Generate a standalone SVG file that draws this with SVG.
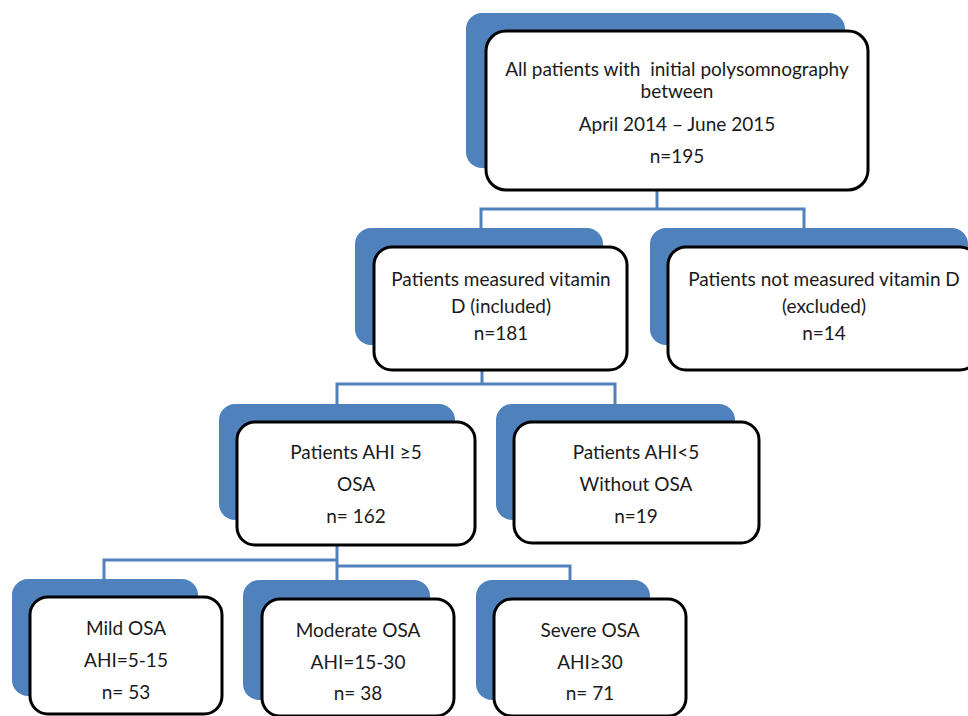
<svg xmlns="http://www.w3.org/2000/svg" width="968" height="716" viewBox="0 0 968 716">
<style>
.bk{fill:#4F81BD}
.fr{fill:#fff;stroke:#000;stroke-width:3}
.t{font-family:Lato,"Liberation Sans",Arial,sans-serif;font-size:19px;fill:#1a1a1a;text-anchor:middle;white-space:pre}
.c{fill:none;stroke:#4F81BD;stroke-width:3}
</style>
<rect width="968" height="716" fill="#fff"/>
<g id="connectors">
<path class="c" d="M657 190V209M481 230V209H804V230"/>
<path class="c" d="M482 370V384M337 404V384H615V404"/>
<path class="c" d="M337 545V599M104 580V560H337M337 566H570V580"/>
</g>
<g id="n1">
<rect class="bk" x="466" y="13" width="379" height="155" rx="16"/>
<rect class="fr" x="486" y="31" width="382" height="159" rx="20"/>
<text class="t" x="677" y="76">All patients with  initial polysomnography</text>
<text class="t" x="677" y="98">between</text>
<text class="t" x="677" y="131">April 2014 – June 2015</text>
<text class="t" x="677" y="163">n=195</text>
</g>
<g id="n2">
<rect class="bk" x="355" y="228" width="248" height="117" rx="16"/>
<rect class="fr" x="374" y="247" width="253" height="123" rx="18"/>
<text class="t" x="501" y="286">Patients measured vitamin</text>
<text class="t" x="501" y="313">D (included)</text>
<text class="t" x="501" y="340">n=181</text>
</g>
<g id="n3">
<rect class="bk" x="650" y="228" width="318" height="117" rx="16"/>
<rect class="fr" x="668" y="247" width="310" height="123" rx="18"/>
<text class="t" x="824" y="286">Patients not measured vitamin D</text>
<text class="t" x="824" y="313">(excluded)</text>
<text class="t" x="824" y="340">n=14</text>
</g>
<g id="n4">
<rect class="bk" x="219" y="404" width="236" height="116" rx="16"/>
<rect class="fr" x="237" y="422" width="238" height="123" rx="18"/>
<text class="t" x="356" y="459">Patients AHI ≥5</text>
<text class="t" x="356" y="491">OSA</text>
<text class="t" x="356" y="523">n= 162</text>
</g>
<g id="n5">
<rect class="bk" x="496" y="404" width="239" height="116" rx="16"/>
<rect class="fr" x="514" y="422" width="245" height="121" rx="18"/>
<text class="t" x="636" y="459">Patients AHI&lt;5</text>
<text class="t" x="636" y="491">Without OSA</text>
<text class="t" x="636" y="523">n=19</text>
</g>
<g id="n6">
<rect class="bk" x="12" y="579" width="186" height="117" rx="16"/>
<rect class="fr" x="30" y="597" width="192" height="117" rx="18"/>
<text class="t" x="126" y="635">Mild OSA</text>
<text class="t" x="126" y="667">AHI=5-15</text>
<text class="t" x="126" y="699">n= 53</text>
</g>
<g id="n7">
<rect class="bk" x="243" y="580" width="187" height="120" rx="16"/>
<rect class="fr" x="262" y="599" width="192" height="117" rx="18"/>
<text class="t" x="358" y="637">Moderate OSA</text>
<text class="t" x="358" y="669">AHI=15-30</text>
<text class="t" x="358" y="700">n= 38</text>
</g>
<g id="n8">
<rect class="bk" x="476" y="580" width="174" height="120" rx="16"/>
<rect class="fr" x="494" y="599" width="192" height="117" rx="18"/>
<text class="t" x="590" y="637">Severe OSA</text>
<text class="t" x="590" y="669">AHI≥30</text>
<text class="t" x="590" y="700">n= 71</text>
</g>
</svg>
